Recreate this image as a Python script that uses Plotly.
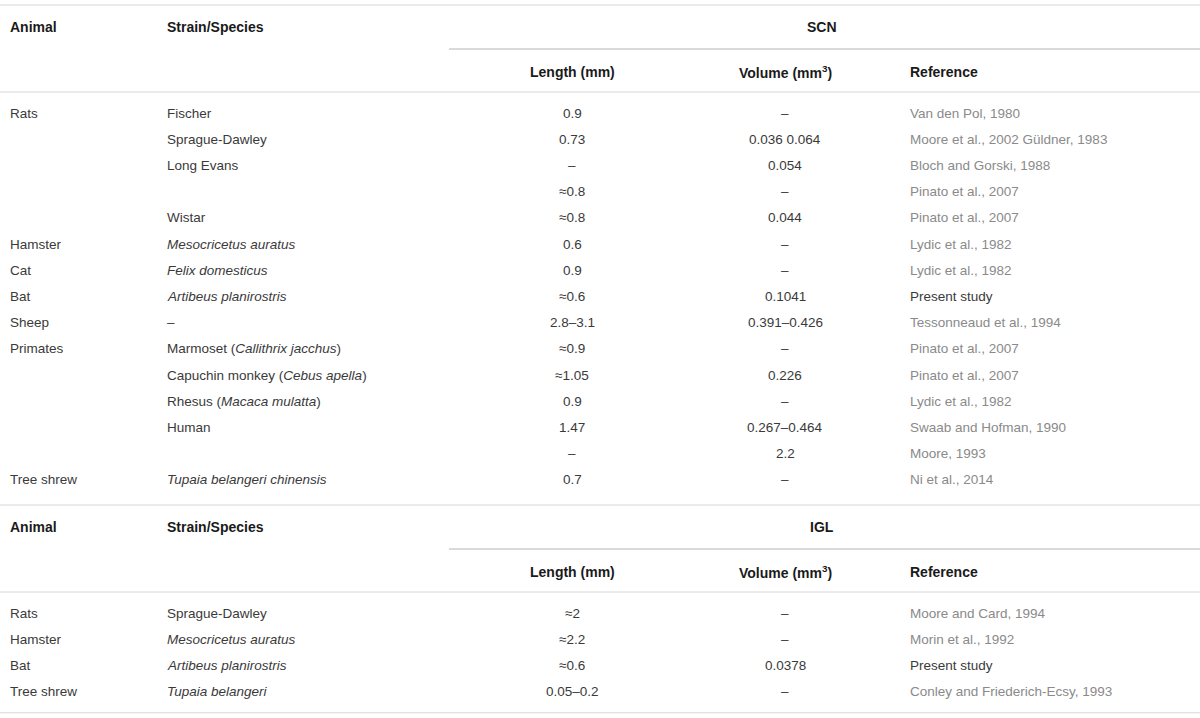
import plotly.graph_objects as go

# ---------------------------------------------------------------------------
# Table content
# ---------------------------------------------------------------------------

header_cols = ["Animal", "Strain/Species"]
sub_cols = ["Length (mm)", "Volume (mm<sup>3</sup>)", "Reference"]
section_titles = ["SCN", "IGL"]

scn_animal = ["Rats", "", "", "", "", "Hamster", "Cat", "Bat", "Sheep",
              "Primates", "", "", "", "", "Tree shrew"]
scn_strain = ["Fischer", "Sprague-Dawley", "Long Evans", "", "Wistar",
              "<i>Mesocricetus auratus</i>", "<i>Felix domesticus</i>",
              "<i>Artibeus planirostris</i>", "–",
              "Marmoset (<i>Callithrix jacchus</i>)",
              "Capuchin monkey (<i>Cebus apella</i>)",
              "Rhesus (<i>Macaca mulatta</i>)", "Human", "",
              "<i>Tupaia belangeri chinensis</i>"]
scn_length = ["0.9", "0.73", "–", "≈0.8", "≈0.8", "0.6", "0.9", "≈0.6",
              "2.8–3.1", "≈0.9", "≈1.05", "0.9", "1.47", "–", "0.7"]
scn_volume = ["–", "0.036 0.064", "0.054", "–", "0.044", "–", "–", "0.1041",
              "0.391–0.426", "–", "0.226", "–", "0.267–0.464", "2.2", "–"]
scn_ref = ["Van den Pol, 1980", "Moore et al., 2002 Güldner, 1983",
           "Bloch and Gorski, 1988", "Pinato et al., 2007", "Pinato et al., 2007",
           "Lydic et al., 1982", "Lydic et al., 1982", "Present study",
           "Tessonneaud et al., 1994", "Pinato et al., 2007", "Pinato et al., 2007",
           "Lydic et al., 1982", "Swaab and Hofman, 1990", "Moore, 1993",
           "Ni et al., 2014"]

igl_animal = ["Rats", "Hamster", "Bat", "Tree shrew"]
igl_strain = ["Sprague-Dawley", "<i>Mesocricetus auratus</i>",
              "<i>Artibeus planirostris</i>", "<i>Tupaia belangeri</i>"]
igl_length = ["≈2", "≈2.2", "≈0.6", "0.05–0.2"]
igl_volume = ["–", "–", "0.0378", "–"]
igl_ref = ["Moore and Card, 1994", "Morin et al., 1992", "Present study",
           "Conley and Friederich-Ecsy, 1993"]

# ---------------------------------------------------------------------------
# Layout constants (pixel space)
# ---------------------------------------------------------------------------

W, H = 1200, 718
FONT = "Liberation Sans, Arial, sans-serif"
BODY_SIZE = 13.5
HEAD_SIZE = 14
TEXT_COL = "#3a3a3a"
REF_COL = "#8a8a8a"
HEAD_COL = "#1a1a1a"
LINE_COL = "#d6d6d6"
SUB_LINE_COL = "#b4b4b4"

X_ANIMAL, X_STRAIN, X_LEN, X_VOL, X_REF = 8, 165, 572, 785, 908
X_SPAN = 449
X_SECTION = 822
ROW_STEP = 26.2

sections = [
    dict(title=section_titles[0], top=5, animal=scn_animal, strain=scn_strain,
         length=scn_length, volume=scn_volume, ref=scn_ref),
    dict(title=section_titles[1], top=505, animal=igl_animal, strain=igl_strain,
         length=igl_length, volume=igl_volume, ref=igl_ref),
]

annotations = []
shapes = []


def _text(x, y, txt, anchor="left", size=BODY_SIZE, color=TEXT_COL, bold=False):
    if not txt:
        return
    if bold:
        txt = f"<b>{txt}</b>"
    annotations.append(dict(
        x=x, y=y, xref="x", yref="y", text=txt, showarrow=False,
        xanchor=anchor, yanchor="middle",
        font=dict(family=FONT, size=size, color=color),
    ))


def _hline(y, x0=0, x1=W, color=LINE_COL):
    shapes.append(dict(type="line", xref="x", yref="y", x0=x0, x1=x1, y0=y, y1=y,
                       line=dict(color=color, width=1)))


for sec in sections:
    top = sec["top"]
    _hline(top)
    _text(X_ANIMAL, top + 22, header_cols[0], size=HEAD_SIZE, color=HEAD_COL, bold=True)
    _text(X_STRAIN, top + 22, header_cols[1], size=HEAD_SIZE, color=HEAD_COL, bold=True)
    _text(X_SECTION, top + 22, sec["title"], anchor="center", size=HEAD_SIZE,
          color=HEAD_COL, bold=True)
    _hline(top + 44, x0=X_SPAN, color=SUB_LINE_COL)
    _text(X_LEN, top + 67, sub_cols[0], anchor="center", size=HEAD_SIZE, color=HEAD_COL, bold=True)
    _text(X_VOL, top + 67, sub_cols[1], anchor="center", size=HEAD_SIZE, color=HEAD_COL, bold=True)
    _text(X_REF, top + 67, sub_cols[2], size=HEAD_SIZE, color=HEAD_COL, bold=True)
    _hline(top + 87)

    y0 = top + 108
    for i in range(len(sec["animal"])):
        y = y0 + i * ROW_STEP
        _text(X_ANIMAL, y, sec["animal"][i])
        _text(X_STRAIN, y, sec["strain"][i])
        _text(X_LEN, y, sec["length"][i], anchor="center")
        _text(X_VOL, y, sec["volume"][i], anchor="center")
        ref = sec["ref"][i]
        _text(X_REF, y, ref, color=TEXT_COL if ref == "Present study" else REF_COL)

_hline(y0 + len(sections[-1]["animal"]) * ROW_STEP - 5)

fig = go.Figure()
fig.update_layout(
    width=W, height=H,
    margin=dict(l=0, r=0, t=0, b=0),
    paper_bgcolor="white", plot_bgcolor="white",
    xaxis=dict(range=[0, W], visible=False, fixedrange=True),
    yaxis=dict(range=[H, 0], visible=False, fixedrange=True),
    annotations=annotations,
    shapes=shapes,
    showlegend=False,
)
# page body has a default 8px margin; drop it so the figure fills the window
fig.write_html("out.html", config={"displayModeBar": False},
               post_script="document.body.style.margin='0';")
